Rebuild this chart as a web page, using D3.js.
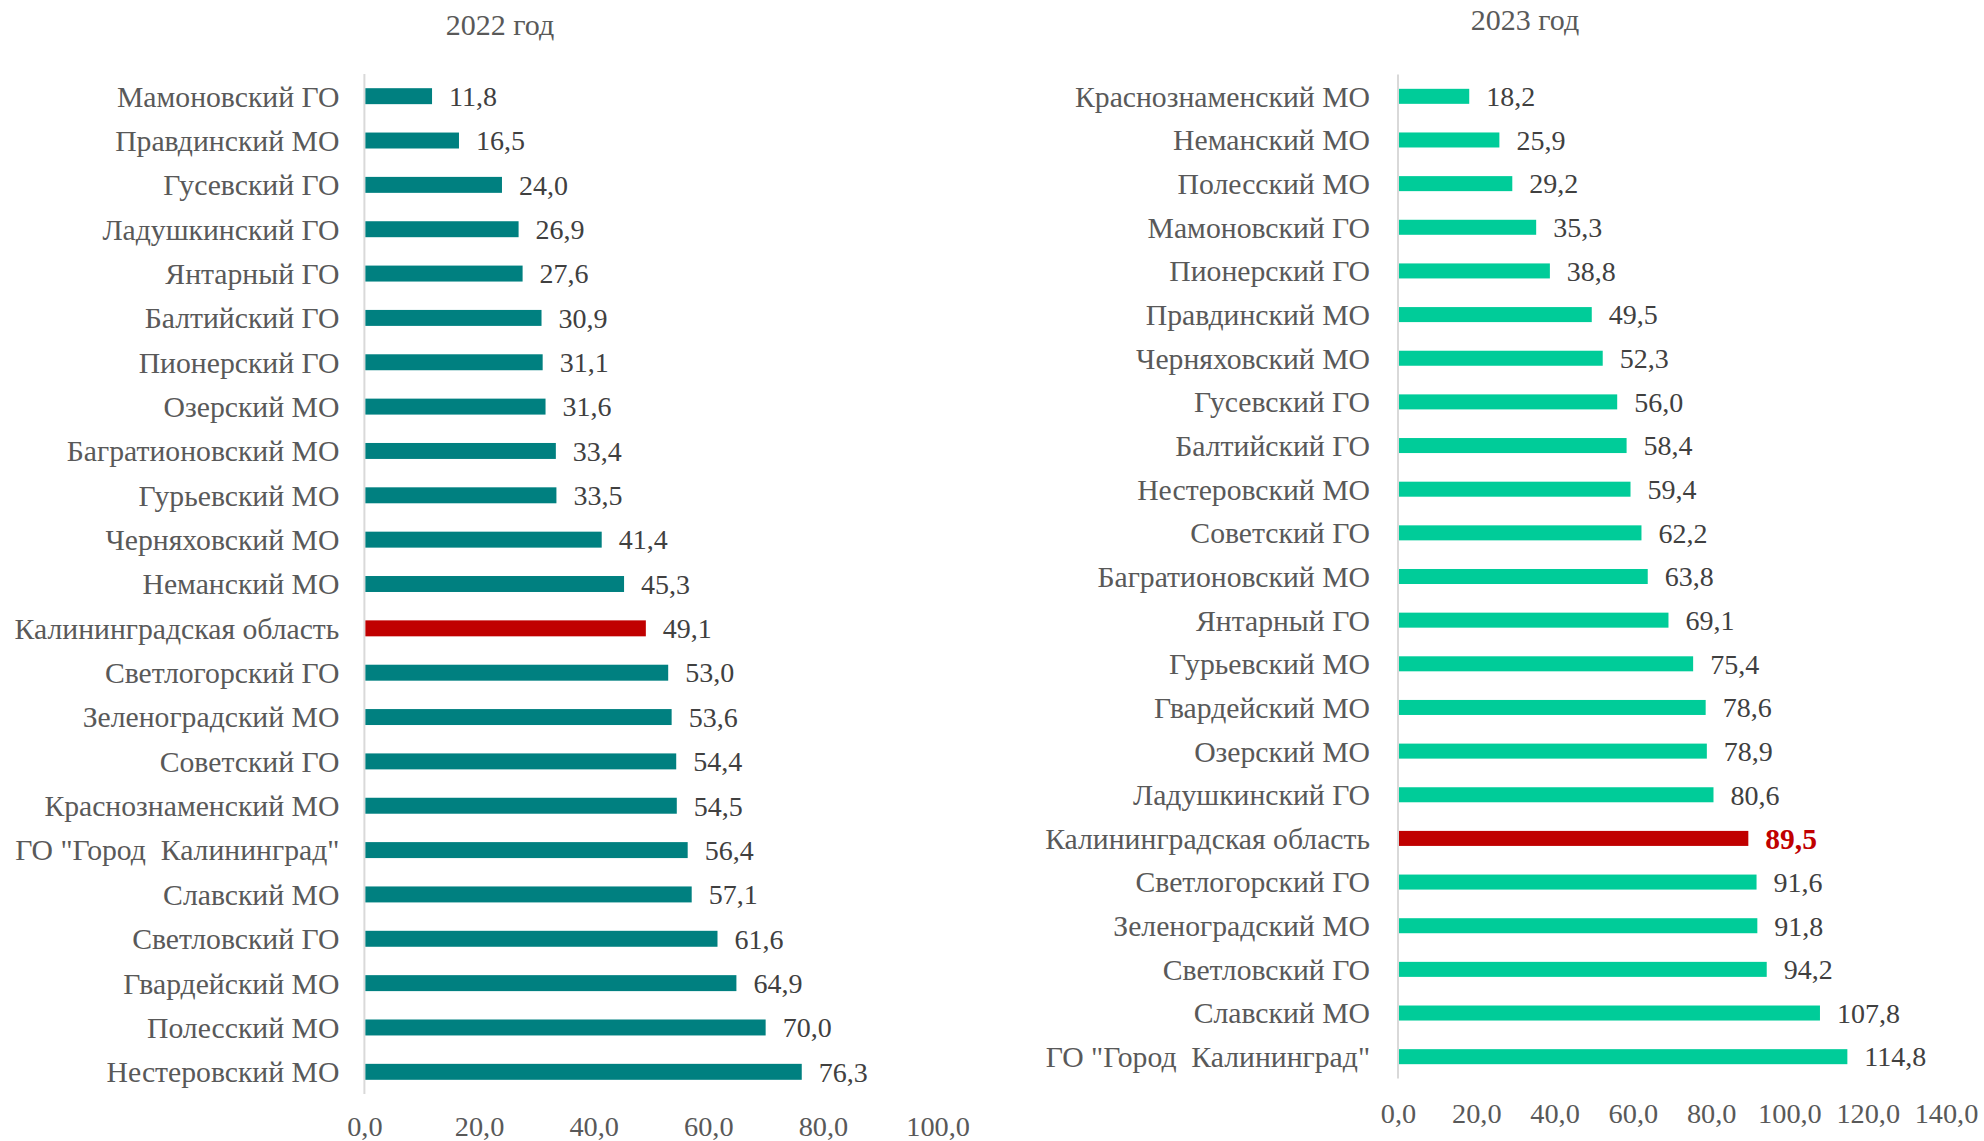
<!DOCTYPE html>
<html><head><meta charset="utf-8">
<script src="https://cdn.jsdelivr.net/npm/d3@7"></script>
<style>
html,body{margin:0;padding:0;background:#fff;}
svg text{font-family:"Liberation Serif","Times New Roman",serif;white-space:pre;}
</style></head>
<body><svg id="c" width="1984" height="1141"></svg>
<script>
const titles2022 = "2022 год";
const titles2023 = "2023 год";
const cats2022 = ["Мамоновский ГО","Правдинский МО","Гусевский ГО","Ладушкинский ГО","Янтарный ГО","Балтийский ГО","Пионерский ГО","Озерский МО","Багратионовский МО","Гурьевский МО","Черняховский МО","Неманский МО","Калининградская область","Светлогорский ГО","Зеленоградский МО","Советский ГО","Краснознаменский МО","ГО \"Город  Калининград\"","Славский МО","Светловский ГО","Гвардейский МО","Полесский МО","Нестеровский МО"];
const vals2022 = [11.8,16.5,24.0,26.9,27.6,30.9,31.1,31.6,33.4,33.5,41.4,45.3,49.1,53.0,53.6,54.4,54.5,56.4,57.1,61.6,64.9,70.0,76.3];
const cats2023 = ["Краснознаменский МО","Неманский МО","Полесский МО","Мамоновский ГО","Пионерский ГО","Правдинский МО","Черняховский МО","Гусевский ГО","Балтийский ГО","Нестеровский МО","Советский ГО","Багратионовский МО","Янтарный ГО","Гурьевский МО","Гвардейский МО","Озерский МО","Ладушкинский ГО","Калининградская область","Светлогорский ГО","Зеленоградский МО","Светловский ГО","Славский МО","ГО \"Город  Калининград\""];
const vals2023 = [18.2,25.9,29.2,35.3,38.8,49.5,52.3,56.0,58.4,59.4,62.2,63.8,69.1,75.4,78.6,78.9,80.6,89.5,91.6,91.8,94.2,107.8,114.8];
const ticks2022 = [0,20,40,60,80,100];
const ticks2023 = [0,20,40,60,80,100,120,140];
const highlight = "Калининградская область";

const svg = d3.select("#c");
const fmt = v => d3.format(".1f")(v).replace(".", ",");
const FS_CAT = 29.7, FS_VAL = 28, FS_HI = 29.5, FS_TICK = 28.3, FS_TITLE = 30;
const txt = "#595959";

function panel(o){
  const g = svg.append("g");
  const x = d3.scaleLinear().domain([0, o.ticks[o.ticks.length-1]]).range([o.x0, o.x1]);
  const y = d3.scaleBand().domain(o.cats).range([o.y0, o.y1]).paddingInner(o.pad).paddingOuter(o.pad/2);
  g.append("text").attr("x", o.tx).attr("y", o.ty).attr("text-anchor","middle")
    .attr("font-size", FS_TITLE).attr("fill", txt).text(o.title);
  g.append("line").attr("x1", x(0)).attr("x2", x(0)).attr("y1", o.y0).attr("y2", o.y1)
    .attr("stroke", "#d9d9d9").attr("stroke-width", 2);
  g.selectAll("rect.b").data(o.cats).join("rect")
    .attr("x", x(0)+1).attr("y", d => y(d))
    .attr("width", (d,i) => x(o.vals[i]) - x(0) - 1)
    .attr("height", y.bandwidth())
    .attr("fill", d => d === highlight ? "#C00000" : o.color);
  g.selectAll("text.c").data(o.cats).join("text")
    .attr("x", x(0) - o.lgap).attr("y", d => y(d) + y.bandwidth()/2)
    .attr("dy", "0.35em").attr("text-anchor", "end")
    .attr("font-size", FS_CAT).attr("fill", txt).text(d => d);
  g.selectAll("text.v").data(o.cats).join("text")
    .attr("x", (d,i) => x(o.vals[i]) + o.vgap).attr("y", d => y(d) + y.bandwidth()/2)
    .attr("dy", "0.35em")
    .attr("font-size", d => (o.boldHi && d === highlight) ? FS_HI : FS_VAL)
    .attr("font-weight", d => (o.boldHi && d === highlight) ? "bold" : "normal")
    .attr("fill", d => (o.boldHi && d === highlight) ? "#C00000" : "#404040")
    .text((d,i) => fmt(o.vals[i]));
  const ax = g.append("g").attr("transform", `translate(0,${o.tickY})`)
    .call(d3.axisBottom(x).tickValues(o.ticks).tickFormat(fmt).tickSize(0).tickPadding(0));
  ax.select(".domain").remove();
  ax.selectAll("text").attr("font-size", FS_TICK).attr("fill", txt)
    .attr("font-family", "Liberation Serif, Times New Roman, serif").attr("dy", "0.35em");
}

panel({title: titles2022, cats: cats2022, vals: vals2022, ticks: ticks2022,
  x0: 364.4, x1: 937.6, y0: 74, y1: 1094, pad: 0.64, color: "#008080",
  tx: 500, ty: 35, tickY: 1126, lgap: 25, vgap: 17, boldHi: false});
panel({title: titles2023, cats: cats2023, vals: vals2023, ticks: ticks2023,
  x0: 1398, x1: 1946, y0: 74.5, y1: 1078.5, pad: 0.656, color: "#00CC99",
  tx: 1525, ty: 30, tickY: 1113, lgap: 28, vgap: 17, boldHi: true});
</script>
</body></html>
